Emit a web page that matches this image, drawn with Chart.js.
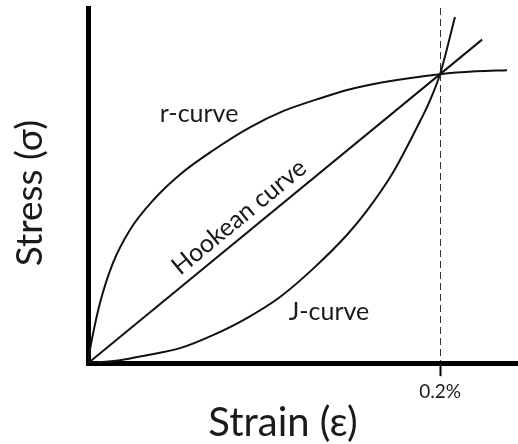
<!DOCTYPE html>
<html>
<head>
<meta charset="utf-8">
<script src="https://cdn.jsdelivr.net/npm/chart.js"></script>
<style>
  html, body { margin: 0; padding: 0; background: #fff; }
  canvas { display: block; }
</style>
</head>
<body>
<canvas id="stressChart" width="518" height="444"></canvas>
<script>
/* --- Data (strain in %, stress normalised to the crossing point) --- */
const rStrain = [0, 0.0011, 0.0023, 0.0068, 0.0142, 0.0239, 0.0369, 0.0523, 0.0710, 0.0920, 0.1108, 0.1301, 0.1489, 0.1676, 0.2, 0.2205, 0.2381];
const rStress = [0, 0.045, 0.085, 0.208, 0.347, 0.462, 0.563, 0.653, 0.736, 0.816, 0.872, 0.913, 0.948, 0.972, 1.0, 1.010, 1.014];

const jStrain = [0, 0.0182, 0.0335, 0.0523, 0.0710, 0.0903, 0.1091, 0.1278, 0.1472, 0.1585, 0.1733, 0.1869, 0.1943, 0.2, 0.2085];
const jStress = [0, 0.0104, 0.0278, 0.0521, 0.0972, 0.1563, 0.2292, 0.3264, 0.4444, 0.5278, 0.6597, 0.8160, 0.9097, 1.0, 1.1979];

const hookeStrain = [0, 0.2239];
const hookeStress = [0, 1.1195];

const xTicks = [0.2];
const xMax = 0.2443;
const yMax = 1.229;

const FONT = 'Lato, "Open Sans", sans-serif';
const TEXT = '#1a1a1a';

const toPoints = (xs, ys) => xs.map((x, i) => ({ x, y: ys[i] }));

/* --- Annotation text --- */
const curveLabels = [
  { text: 'r-curve', x: 0.0631, y: 0.833 },
  { text: 'J-curve', x: 0.1369, y: 0.149 }
];
const hookeLabel = { text: 'Hookean curve', x: 0.092, offset: 9 };

const labelPlugin = {
  id: 'labels',
  afterDraw(chart) {
    const { ctx, scales: { x, y } } = chart;
    ctx.save();
    ctx.fillStyle = TEXT;
    ctx.textAlign = 'center';
    ctx.textBaseline = 'alphabetic';

    ctx.font = '25px ' + FONT;
    curveLabels.forEach(l => {
      ctx.fillText(l.text, x.getPixelForValue(l.x), y.getPixelForValue(l.y));
    });

    // Hookean label sits along the straight line
    const slope = hookeStress[1] / hookeStrain[1];
    const px = x.getPixelForValue(hookeLabel.x);
    const py = y.getPixelForValue(hookeLabel.x * slope);
    const ang = Math.atan2(
      y.getPixelForValue(hookeStress[1]) - y.getPixelForValue(0),
      x.getPixelForValue(hookeStrain[1]) - x.getPixelForValue(0)
    );
    ctx.save();
    ctx.translate(px, py);
    ctx.rotate(ang);
    ctx.fillText(hookeLabel.text, 0, -hookeLabel.offset);
    ctx.restore();

    // Axis titles
    ctx.font = '40px ' + FONT;
    ctx.fillText('Strain (ε)', 283, 436);
    ctx.font = '37px ' + FONT;
    ctx.save();
    ctx.translate(42, 193);
    ctx.rotate(-Math.PI / 2);
    ctx.fillText('Stress (σ)', 0, 0);
    ctx.restore();

    ctx.restore();
  }
};

const curveStyle = {
  borderColor: '#111',
  borderWidth: 2,
  pointRadius: 0,
  fill: false,
  cubicInterpolationMode: 'monotone'
};

new Chart(document.getElementById('stressChart').getContext('2d'), {
  type: 'line',
  data: {
    datasets: [
      { label: 'r-curve', data: toPoints(rStrain, rStress), ...curveStyle },
      { label: 'J-curve', data: toPoints(jStrain, jStress), ...curveStyle },
      { label: 'Hookean curve', data: toPoints(hookeStrain, hookeStress), ...curveStyle }
    ]
  },
  options: {
    responsive: false,
    animation: false,
    layout: { padding: { left: 88, right: 0, top: 8, bottom: 37 } },
    plugins: {
      legend: { display: false },
      tooltip: { enabled: false }
    },
    scales: {
      x: {
        type: 'linear',
        min: 0,
        max: xMax,
        afterBuildTicks: (scale) => { scale.ticks = xTicks.map(v => ({ value: v })); },
        ticks: {
          callback: (v) => v + '%',
          color: TEXT,
          font: { family: FONT, size: 19 },
          padding: 4,
          maxRotation: 0,
          autoSkip: false
        },
        grid: {
          color: '#333',
          lineWidth: 1,
          drawTicks: true,
          tickLength: 13,
          tickBorderDash: [],
          tickColor: '#000',
          tickWidth: 2
        },
        border: { display: true, color: '#000', width: 5, dash: [7, 4] }
      },
      y: {
        min: 0,
        max: yMax,
        ticks: { display: false },
        grid: { display: false, drawTicks: false },
        border: { display: true, color: '#000', width: 5 }
      }
    }
  },
  plugins: [labelPlugin]
});
</script>
</body>
</html>
